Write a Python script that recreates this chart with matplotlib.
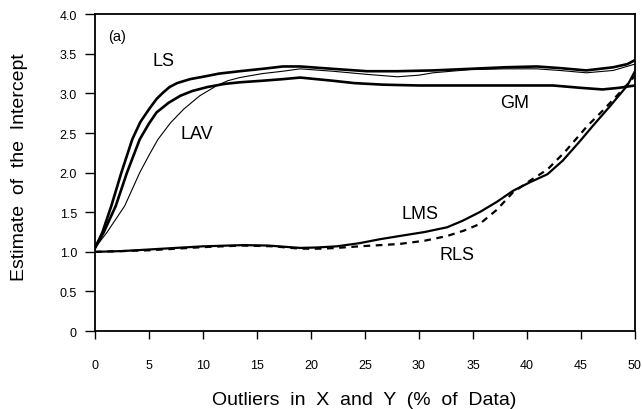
import numpy as np
import matplotlib
matplotlib.use("Agg")
import matplotlib.pyplot as plt

plt.rcParams['font.family'] = ['Liberation Sans', 'DejaVu Sans']

# values (x = % outliers)
ls_x = [0, 0.68, 1.51, 2.44, 3.45, 4.2, 5, 5.7, 6.3, 6.9, 7.6, 8.8, 10, 11.5, 13.4, 15.5, 17.4, 19,
        22, 25.2, 28, 31.3, 34.7, 38, 40.9, 43, 45.5, 48, 49.3, 50]
ls_y = [1.05, 1.245, 1.58, 2.0, 2.42, 2.64, 2.8, 2.93, 3.01, 3.08, 3.13, 3.18, 3.21, 3.25, 3.28, 3.31, 3.34, 3.34,
        3.31, 3.28, 3.28, 3.29, 3.31, 3.33, 3.34, 3.32, 3.29, 3.33, 3.37, 3.42]

gm_x = [0, 0.8, 1.92, 2.96, 4.14, 5, 5.7, 6.8, 7.9, 9, 10.4, 12, 13.4, 15.5, 17.4, 19, 20.5, 22, 24,
        26.7, 30, 34.7, 38, 42.4, 45, 47, 48.5, 50]
gm_y = [1.05, 1.245, 1.58, 2.0, 2.42, 2.62, 2.76, 2.88, 2.97, 3.03, 3.08, 3.12, 3.14, 3.16, 3.18, 3.2, 3.18, 3.16, 3.13,
        3.11, 3.1, 3.1, 3.1, 3.1, 3.07, 3.05, 3.07, 3.1]

lav_x = [0, 1.1, 2.75, 4.14, 5, 5.83, 7, 8.2, 9.7, 11.3, 12.3, 13.4, 15.5, 17.4, 19, 22, 25.2, 28, 30,
         31.3, 34.7, 38, 40.9, 43, 45.5, 48, 50]
lav_y = [1.05, 1.245, 1.58, 2.0, 2.22, 2.42, 2.63, 2.8, 2.97, 3.1, 3.16, 3.2, 3.25, 3.28, 3.31, 3.28, 3.24, 3.21, 3.23,
         3.26, 3.3, 3.31, 3.31, 3.29, 3.26, 3.29, 3.37]

lms_x = [0, 2.5, 5, 7.5, 10, 13.7, 16, 19, 20.5, 22.4, 24.5, 26.4, 28.2, 30.5, 32.6, 34, 35.6, 37.2,
         38.7, 40.3, 41.9, 43.3, 44.8, 46.1, 47.7, 49.3, 50]
lms_y = [1.0, 1.01, 1.03, 1.05, 1.07, 1.085, 1.08, 1.05, 1.055, 1.07, 1.11, 1.16, 1.2, 1.25, 1.31, 1.39, 1.5, 1.63,
         1.77, 1.88, 1.98, 2.15, 2.38, 2.59, 2.84, 3.1, 3.28]

rls_x = [0, 5, 10, 13.7, 16.5, 19, 21, 22.4, 24.5, 26.4, 28.2, 30.5, 32.6, 34.2, 35.6, 37.2, 38.7,
         40.3, 41.9, 43.5, 45.6, 47, 48.6, 50]
rls_y = [1.0, 1.02, 1.06, 1.08, 1.07, 1.04, 1.04, 1.05, 1.07, 1.085, 1.1, 1.14, 1.2, 1.27, 1.35, 1.53, 1.75,
         1.9, 2.04, 2.26, 2.59, 2.78, 3.01, 3.22]

xticks = [0, 5, 10, 15, 20, 25, 30, 35, 40, 45, 50]
yticks = [0, 0.5, 1.0, 1.5, 2.0, 2.5, 3.0, 3.5, 4.0]
ytick_labels = ['0', '0.5', '1.0', '1.5', '2.0', '2.5', '3.0', '3.5', '4.0']

fig = plt.figure(figsize=(6.42, 4.10), dpi=100)
ax = fig.add_axes([0.148, 0.19, 0.841, 0.773])

ax.plot(ls_x, ls_y, 'k-', lw=1.9)
ax.plot(gm_x, gm_y, 'k-', lw=1.9)
ax.plot(lav_x, lav_y, 'k-', lw=0.8)
ax.plot(lms_x, lms_y, 'k-', lw=1.6)
ax.plot(rls_x, rls_y, 'k--', lw=1.6, dashes=(3, 2.5))

ax.text(6.3, 3.41, 'LS', fontsize=13, ha='center', va='center')
ax.text(9.4, 2.49, 'LAV', fontsize=13, ha='center', va='center')
ax.text(38.9, 2.89, 'GM', fontsize=13, ha='center', va='center')
ax.text(30.1, 1.48, 'LMS', fontsize=13, ha='center', va='center')
ax.text(33.5, 0.97, 'RLS', fontsize=13, ha='center', va='center')
ax.text(2.0, 3.72, '(a)', fontsize=10.5, ha='center', va='center')

ax.set_xlim(0, 50)
ax.set_ylim(0, 4.0)
ax.set_xticks(xticks)
ax.set_xticklabels([str(t) for t in xticks])
ax.set_yticks(yticks)
ax.set_yticklabels(ytick_labels)
ax.tick_params(axis='x', direction='out', length=6, width=1, pad=14, labelsize=9)
ax.tick_params(axis='y', direction='out', length=7, width=1, pad=6, labelsize=9)
for s in ax.spines.values():
    s.set_linewidth(1.3)

# axis titles placed in figure coords to match the reference layout
fig.text(0.568, 0.012, 'Outliers  in  X  and  Y  (%  of  Data)', fontsize=14,
         ha='center', va='baseline')
fig.text(0.031, 0.593, 'Estimate  of  the  Intercept', fontsize=14,
         ha='center', va='center', rotation=90)

fig.savefig('out.png', dpi=100)
